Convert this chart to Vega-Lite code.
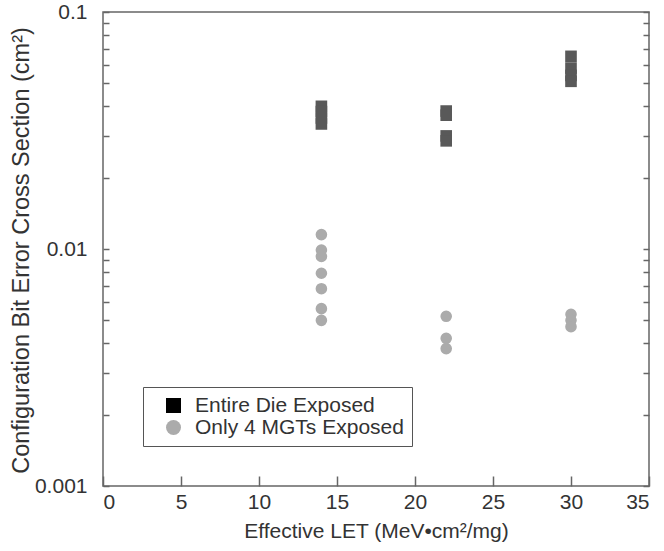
{
  "$schema": "https://vega.github.io/schema/vega-lite/v6.json",
  "width": 546,
  "height": 474,
  "autosize": {"type": "none"},
  "padding": {"left": 103, "top": 12, "right": 15, "bottom": 65},
  "background": "white",
  "config": {
    "view": {"stroke": "#666666", "strokeWidth": 1.5},
    "font": "Liberation Sans",
    "axis": {
      "domain": false,
      "grid": false,
      "labelColor": "#333333",
      "titleColor": "#333333",
      "tickColor": "#666666",
      "tickWidth": 1.5,
      "labelFont": "Liberation Sans",
      "titleFont": "Liberation Sans",
      "titleFontWeight": "normal",
      "labelFontSize": 21
    }
  },
  "data": {
    "values": [
      {"let": 14, "xs": 0.040, "series": "Entire Die Exposed"},
      {"let": 14, "xs": 0.038, "series": "Entire Die Exposed"},
      {"let": 14, "xs": 0.0357, "series": "Entire Die Exposed"},
      {"let": 14, "xs": 0.0337, "series": "Entire Die Exposed"},
      {"let": 22, "xs": 0.0382, "series": "Entire Die Exposed"},
      {"let": 22, "xs": 0.0367, "series": "Entire Die Exposed"},
      {"let": 22, "xs": 0.030, "series": "Entire Die Exposed"},
      {"let": 22, "xs": 0.0286, "series": "Entire Die Exposed"},
      {"let": 30, "xs": 0.065, "series": "Entire Die Exposed"},
      {"let": 30, "xs": 0.058, "series": "Entire Die Exposed"},
      {"let": 30, "xs": 0.054, "series": "Entire Die Exposed"},
      {"let": 30, "xs": 0.051, "series": "Entire Die Exposed"},
      {"let": 14, "xs": 0.0115, "series": "Only 4 MGTs Exposed"},
      {"let": 14, "xs": 0.0099, "series": "Only 4 MGTs Exposed"},
      {"let": 14, "xs": 0.0093, "series": "Only 4 MGTs Exposed"},
      {"let": 14, "xs": 0.0079, "series": "Only 4 MGTs Exposed"},
      {"let": 14, "xs": 0.0068, "series": "Only 4 MGTs Exposed"},
      {"let": 14, "xs": 0.0056, "series": "Only 4 MGTs Exposed"},
      {"let": 14, "xs": 0.0050, "series": "Only 4 MGTs Exposed"},
      {"let": 22, "xs": 0.0052, "series": "Only 4 MGTs Exposed"},
      {"let": 22, "xs": 0.0042, "series": "Only 4 MGTs Exposed"},
      {"let": 22, "xs": 0.0038, "series": "Only 4 MGTs Exposed"},
      {"let": 30, "xs": 0.0053, "series": "Only 4 MGTs Exposed"},
      {"let": 30, "xs": 0.0050, "series": "Only 4 MGTs Exposed"},
      {"let": 30, "xs": 0.0047, "series": "Only 4 MGTs Exposed"}
    ]
  },
  "layer": [
    {
      "mark": {"type": "point", "filled": true, "opacity": 1, "size": 135, "strokeWidth": 0},
      "encoding": {
        "x": {
          "field": "let",
          "type": "quantitative",
          "scale": {"domain": [0, 35], "nice": false, "zero": false},
          "axis": {
            "values": [0, 5, 10, 15, 20, 25, 30, 35],
            "tickSize": -10,
            "labelPadding": 15,
            "title": "Effective LET (MeV•cm²/mg)",
            "titleFontSize": 21,
            "titleBaseline": "alphabetic",
            "titleY": 51
          }
        },
        "y": {
          "field": "xs",
          "type": "quantitative",
          "scale": {"type": "log", "domain": [0.001, 0.1], "nice": false},
          "axis": {
            "orient": "left",
            "values": [0.001, 0.002, 0.003, 0.004, 0.005, 0.006, 0.007, 0.008, 0.009, 0.01, 0.02, 0.03, 0.04, 0.05, 0.06, 0.07, 0.08, 0.09, 0.1],
            "tickSize": -6,
            "labelPadding": 22,
            "labelExpr": "abs(log(datum.value)/LN10 - round(log(datum.value)/LN10)) < 1e-6 ? format(datum.value, '~g') : ''",
            "encode": {
              "ticks": {
                "x2": {"value": {"expr": "abs(log(datum.value)/LN10 - round(log(datum.value)/LN10)) < 1e-6 ? 10 : 6"}}
              }
            },
            "title": "Configuration Bit Error Cross Section (cm²)",
            "titleFontSize": 23.5,
            "titleBaseline": "alphabetic",
            "titleX": -75,
            "titleY": 238
          }
        },
        "color": {
          "field": "series",
          "type": "nominal",
          "scale": {"domain": ["Entire Die Exposed", "Only 4 MGTs Exposed"], "range": ["#595959", "#ababab"]},
          "legend": null
        },
        "shape": {
          "field": "series",
          "type": "nominal",
          "scale": {"domain": ["Entire Die Exposed", "Only 4 MGTs Exposed"], "range": ["square", "circle"]},
          "legend": null
        }
      }
    },
    {
      "mark": {"type": "point", "filled": true, "opacity": 0, "size": 135},
      "encoding": {
        "x": {"field": "let", "type": "quantitative"},
        "y": {
          "field": "xs",
          "type": "quantitative",
          "scale": {"type": "log", "domain": [0.001, 0.1], "nice": false},
          "axis": {
            "orient": "right",
            "values": [0.001, 0.002, 0.003, 0.004, 0.005, 0.006, 0.007, 0.008, 0.009, 0.01, 0.02, 0.03, 0.04, 0.05, 0.06, 0.07, 0.08, 0.09, 0.1],
            "tickSize": -6,
            "labels": false,
            "title": null,
            "encode": {
              "ticks": {
                "x2": {"value": {"expr": "abs(log(datum.value)/LN10 - round(log(datum.value)/LN10)) < 1e-6 ? -10 : -6"}}
              }
            }
          }
        },
        "color": {
          "field": "series",
          "type": "nominal",
          "scale": {"domain": ["Entire Die Exposed", "Only 4 MGTs Exposed"], "range": ["#000000", "#ababab"]},
          "legend": {
            "title": null,
            "orient": "none",
            "legendX": 40,
            "legendY": 375,
            "padding": 8,
            "strokeColor": "#555555",
            "fillColor": "white",
            "labelFont": "Liberation Sans",
            "labelFontSize": 21,
            "labelColor": "#333333",
            "labelLimit": 400,
            "labelOffset": 11,
            "symbolSize": 225,
            "symbolOffset": 12,
            "symbolOpacity": 1,
            "symbolStrokeWidth": 0,
            "rowPadding": 0,
            "encode": {
              "legend": {
                "strokeWidth": {"value": 1.5}
              }
            }
          }
        },
        "shape": {
          "field": "series",
          "type": "nominal",
          "scale": {"domain": ["Entire Die Exposed", "Only 4 MGTs Exposed"], "range": ["square", "circle"]},
          "legend": {
            "title": null,
            "orient": "none",
            "legendX": 40,
            "legendY": 375,
            "symbolOpacity": 1
          }
        }
      }
    }
  ],
  "resolve": {
    "axis": {"y": "independent"},
    "scale": {"color": "independent", "shape": "independent"}
  }
}
